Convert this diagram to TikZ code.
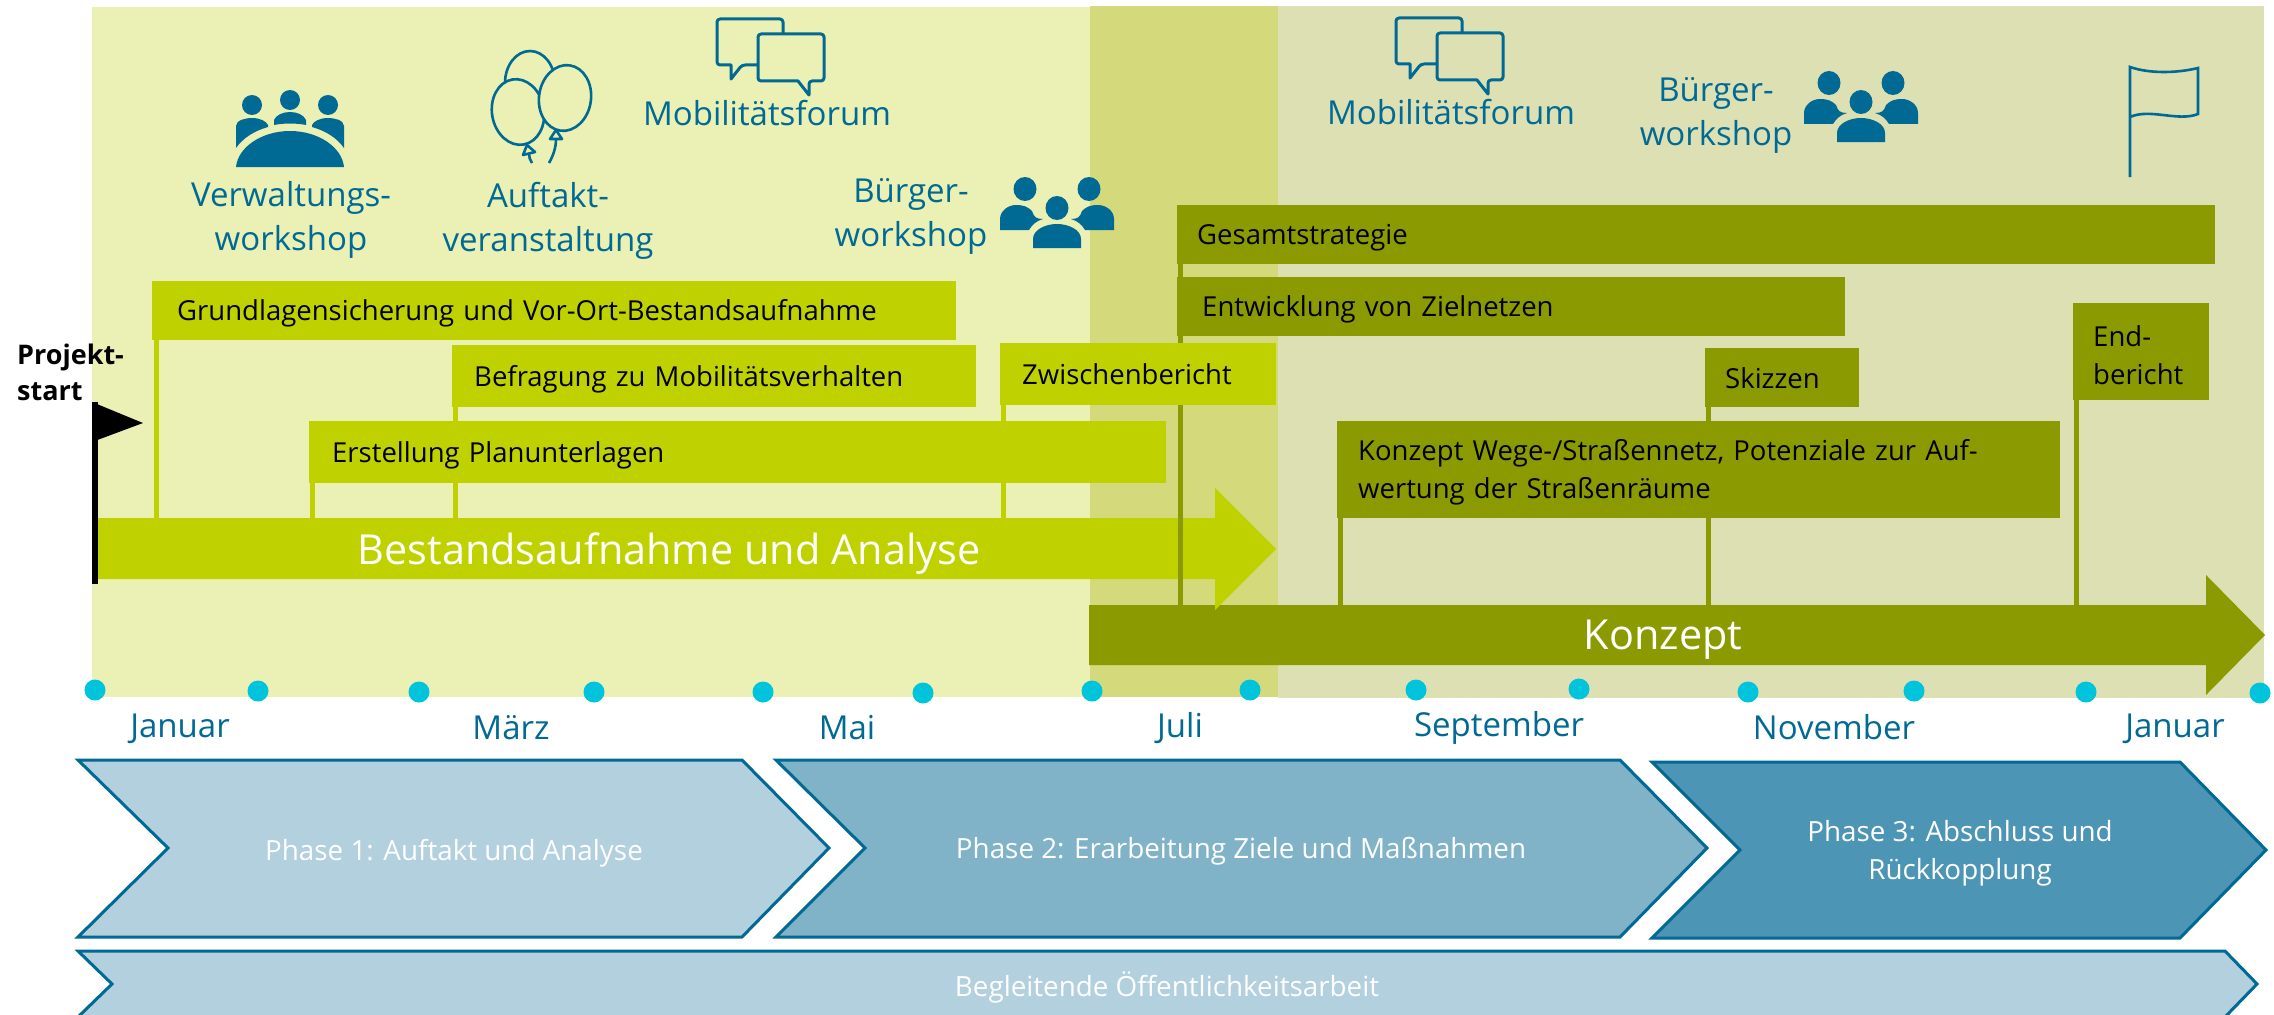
\documentclass[tikz,border=0pt]{standalone}
\usepackage{fontspec}
\setmainfont{Open Sans}
\usetikzlibrary{calc}
\definecolor{bgleft}{HTML}{EBF0B4}
\definecolor{bgmid}{HTML}{D4DA7C}
\definecolor{bgright}{HTML}{DDE0B3}
\definecolor{lime}{HTML}{BFD200}
\definecolor{olive}{HTML}{8B9A00}
\definecolor{petrol}{HTML}{006994}
\definecolor{dotcyan}{HTML}{00C4DC}
\definecolor{phaseone}{HTML}{B3D0DE}
\definecolor{phasetwo}{HTML}{80B2C8}
\definecolor{phasethree}{HTML}{4D95B4}
\tikzset{
  bar/.style n args={3}{anchor=north west, inner xsep=#3, inner ysep=0pt, text width=#1-2*#3, minimum height=#2, align=left, font=\fontsize{27.5}{38}\selectfont, text=black, execute at end node={\par\vspace{-6pt}}},
  limebar/.style n args={3}{bar={#1}{#2}{#3}, fill=lime},
  olivebar/.style n args={3}{bar={#1}{#2}{#3}, fill=olive},
  limepole/.style={draw=lime, line width=5pt},
  olivepole/.style={draw=olive, line width=5pt},
  iconlabel/.style={text=petrol, align=center, font=\fontsize{33}{44}\selectfont},
  month/.style={text=petrol, font=\fontsize{33}{36}\selectfont},
  tick/.style={fill=dotcyan, circle, inner sep=0pt, minimum size=21pt},
  phasebox/.style={draw=petrol, line width=3pt, fill=#1},
  phaselabel/.style={text=white, align=center, font=\fontsize{27.8}{38}\selectfont},
  arrowlabel/.style={text=white, font=\fontsize{41.4}{50}\selectfont},
  chaticon/.pic={
    \draw[petrol, line width=3pt, line join=round, rounded corners=3pt] (41,46) -- (25,46) [sharp corners] -- (14,60) -- (14,46) [rounded corners=3pt] -- (0,46) -- (0,0) -- (66,0) -- (66,15);
    \draw[petrol, line width=3pt, line join=round, rounded corners=3pt] (41,15) -- (107,15) -- (107,62) -- (92,62) [sharp corners] -- (92,76) -- (81,62) [rounded corners=3pt] -- (41,62) -- cycle;
  },
  peopleicon/.pic={
    \fill[petrol] (25,8) ellipse (11.5 and 12);
    \fill[petrol] (89,8) ellipse (11.5 and 12);
    \fill[petrol] (57,27) ellipse (11.5 and 12);
    \fill[petrol] (0,49) -- (0,38) .. controls (0,30) and (8,24) .. (16,24) .. controls (24,24) and (28,26) .. (32,30) .. controls (34,36) and (36,38) .. (43,38) .. controls (36,40) and (32,44) .. (29,49) -- cycle;
    \fill[petrol] (114,49) -- (114,38) .. controls (114,30) and (106,24) .. (98,24) .. controls (90,24) and (86,26) .. (82,30) .. controls (80,36) and (78,38) .. (71,38) .. controls (78,40) and (82,44) .. (85,49) -- cycle;
    \fill[petrol] (33,67) -- (33,58) .. controls (33,49) and (45,43) .. (57,43) .. controls (69,43) and (81,49) .. (81,58) -- (81,67) -- cycle;
  }
}

\begin{document}
\begin{tikzpicture}[x=1pt, y=-1pt]
  \useasboundingbox (0,0) rectangle (2274,1014);

  \fill[bgleft] (92,7) rectangle (1090,697);
  \fill[bgright] (1278,6) rectangle (2264,698);
  \fill[bgmid] (1090,6) rectangle (1278,697);

  \pic at (717,19) {chaticon};
  \pic at (1396,18) {chaticon};
  \pic at (1000,181) {peopleicon};
  \pic at (1804,75) {peopleicon};

  \fill[petrol] (236,167) .. controls (238,147) and (262,131) .. (290,131) .. controls (318,131) and (342,147) .. (344,167) -- cycle;
  \fill[petrol] (252,105) circle (10);
  \fill[petrol] (290,100) circle (10);
  \fill[petrol] (328,105) circle (10);
  \fill[petrol] (236,148) -- (236,126) .. controls (236,120) and (246,118) .. (252,118) .. controls (260,118) and (266,121) .. (268,125) -- (268,127) .. controls (254,131) and (243,138) .. (236,148) -- cycle;
  \fill[petrol] (344,148) -- (344,126) .. controls (344,120) and (334,118) .. (328,118) .. controls (320,118) and (314,121) .. (312,125) -- (312,127) .. controls (326,131) and (337,138) .. (344,148) -- cycle;
  \fill[petrol] (274,125) -- (274,120) .. controls (276,115) and (283,112) .. (290,112) .. controls (297,112) and (304,115) .. (306,120) -- (306,125) .. controls (296,123) and (284,123) .. (274,125) -- cycle;

  \draw[petrol, line width=2.6pt] (530,83) ellipse (25 and 32);
  \draw[petrol, line width=2.6pt, fill=bgleft, rotate around={10:(518,112)}] (518,112) ellipse (26 and 33);
  \draw[petrol, line width=2.6pt, fill=bgleft, rotate around={-8:(565,98)}] (565,98) ellipse (26 and 33);
  \draw[petrol, line width=2.6pt, line join=round] (527,145) -- (523,155) -- (535,152) -- cycle;
  \draw[petrol, line width=2.6pt] (529,154) .. controls (529,157) and (530,160) .. (532,163);
  \draw[petrol, line width=2.6pt, line join=round] (556,130) -- (550,139) -- (562,139) -- cycle;
  \draw[petrol, line width=2.6pt] (556,139) .. controls (556,148) and (553,156) .. (549,163);

  \draw[petrol, line width=2.6pt] (2130,177) -- (2130,67) .. controls (2150,74) and (2178,73) .. (2198,68) -- (2198,114) .. controls (2178,122) and (2150,108) .. (2130,117);

  \node[iconlabel] (verwaltung) at (291,220) {Verwaltungs-\\workshop};
  \node[iconlabel] (auftakt) at (548,221) {Auftakt-\\veranstaltung};
  \node[iconlabel] (forumleft) at (767,113) {Mobilitätsforum};
  \node[iconlabel] (buergerleft) at (911,216) {Bürger-\\workshop};
  \node[iconlabel] (forumright) at (1451,112) {Mobilitätsforum};
  \node[iconlabel] (buergerright) at (1716,115) {Bürger-\\workshop};

  \coordinate (limetop) at (0,518);
  \coordinate (olivetop) at (0,605);

  \fill[olive] (1089,605) -- (2206,605) -- (2206,575) -- (2265,635) -- (2206,695) -- (2206,665) -- (1089,665) -- cycle;
  \fill[lime] (92,518) -- (1215,518) -- (1215,488) -- (1276,549) -- (1215,610) -- (1215,579) -- (92,579) -- cycle;
  \node[arrowlabel] (bestand) at (669,554) {Bestandsaufnahme und Analyse};
  \node[arrowlabel] (konzept) at (1663,640) {Konzept};

  \node[olivebar={1038}{59}{20}] (gesamt) at (1177,205) {Gesamtstrategie};
  \node[olivebar={668}{59}{25}] (ziel) at (1177,277) {Entwicklung von Zielnetzen};
  \node[olivebar={154}{59}{20}] (skizzen) at (1705,348) {Skizzen};
  \node[olivebar={136}{97}{20}] (endbericht) at (2073,303) {End-\\bericht};

  \draw[olivepole] ([xshift=3pt]gesamt.south west) -- ([xshift=3pt]gesamt.south west |- olivetop);
  \draw[olivepole] ([xshift=3pt]skizzen.south west) -- ([xshift=3pt]skizzen.south west |- olivetop);
  \draw[olivepole] ([xshift=3pt]endbericht.south west) -- ([xshift=3pt]endbericht.south west |- olivetop);

  \node[olivebar={723}{97}{21}] (wege) at (1337,421) {Konzept Wege-/Straßennetz, Potenziale zur Auf-\\wertung der Straßenräume};
  \draw[olivepole] ([xshift=3pt]wege.south west) -- ([xshift=3pt]wege.south west |- olivetop);

  \node[limebar={804}{59}{25}] (grundlagen) at (152,281) {Grundlagensicherung und Vor-Ort-Bestandsaufnahme};
  \node[limebar={524}{62}{22}] (befragung) at (452,345) {Befragung zu Mobilitätsverhalten};
  \node[limebar={276}{62}{22}] (zwischen) at (1000,343) {Zwischenbericht};

  \draw[limepole] ([xshift=4pt]grundlagen.south west) -- ([xshift=4pt]grundlagen.south west |- limetop);
  \draw[limepole] ([xshift=3pt]befragung.south west) -- ([xshift=3pt]befragung.south west |- limetop);
  \draw[limepole] ([xshift=3pt]zwischen.south west) -- ([xshift=3pt]zwischen.south west |- limetop);

  \node[limebar={857}{62}{23}] (planung) at (309,421) {Erstellung Planunterlagen};
  \draw[limepole] ([xshift=3pt]planung.south west) -- ([xshift=3pt]planung.south west |- limetop);

  \coordinate (flagtop) at (95,402);
  \coordinate (flagfoot) at (95,584);
  \draw[black, line width=5.5pt] (flagtop) -- (flagfoot);
  \fill[black] (92,402) -- (143,423) -- (92,442) -- cycle;
  \node[anchor=north west, inner sep=0pt, align=left, text=black, font=\fontsize{27}{36}\selectfont\bfseries] (start) at (17,344) {Projekt-\\start};

  \node[tick] (t1) at (95,690) {};
  \node[tick] (t2) at (258,691) {};
  \node[tick] (t3) at (419,692) {};
  \node[tick] (t4) at (594,692) {};
  \node[tick] (t5) at (763,692) {};
  \node[tick] (t6) at (923,693) {};
  \node[tick] (t7) at (1092,691) {};
  \node[tick] (t8) at (1250,690) {};
  \node[tick] (t9) at (1416,690) {};
  \node[tick] (t10) at (1579,689) {};
  \node[tick] (t11) at (1748,692) {};
  \node[tick] (t12) at (1914,691) {};
  \node[tick] (t13) at (2086,692) {};
  \node[tick] (t14) at (2260,693) {};

  \node[month] (jan) at (180,729) {Januar};
  \node[month] (mar) at (511,728) {März};
  \node[month] (mai) at (847,728) {Mai};
  \node[month] (jul) at (1180,728) {Juli};
  \node[month] (sep) at (1499,728) {September};
  \node[month] (nov) at (1834,727) {November};
  \node[month] (janb) at (2175,729) {Januar};

  \draw[phasebox=phaseone] (78,760) -- (742,760) -- (829,848) -- (742,937) -- (78,937) -- (168,848) -- cycle;
  \draw[phasebox=phasetwo] (776,760) -- (1620,760) -- (1707,848) -- (1620,937) -- (776,937) -- (865,848) -- cycle;
  \draw[phasebox=phasethree] (1652,762) -- (2180,762) -- (2266,850) -- (2180,938) -- (1652,938) -- (1740,850) -- cycle;
  \draw[phasebox=phaseone] (78,951) -- (2225,951) -- (2257,984) -- (2225,1017) -- (78,1017) -- (112,984) -- cycle;

  \node[phaselabel] (phase1) at (454,853) {Phase 1: Auftakt und Analyse};
  \node[phaselabel] (phase2) at (1241,851) {Phase 2: Erarbeitung Ziele und Maßnahmen};
  \node[phaselabel] (phase3) at (1960,853) {Phase 3: Abschluss und\\Rückkopplung};
  \node[phaselabel] (oeffentlich) at (1167,987) {Begleitende Öffentlichkeitsarbeit};
\end{tikzpicture}
\end{document}
